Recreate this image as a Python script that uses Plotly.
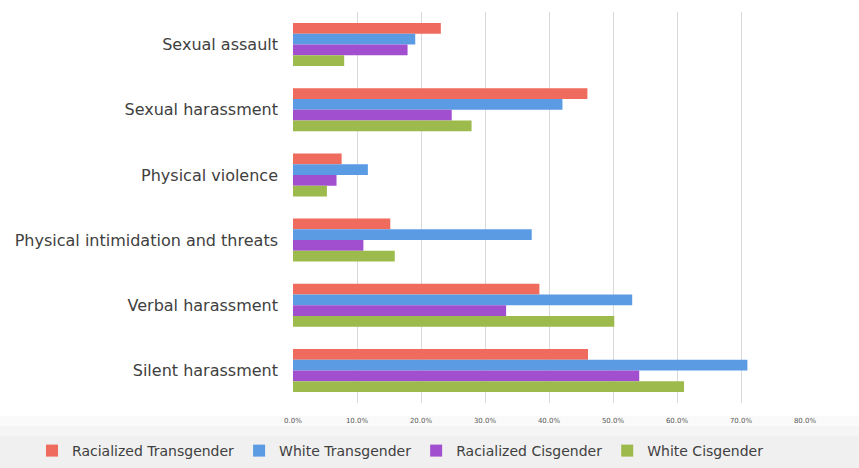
import plotly.graph_objects as go

# Harassment categories (top to bottom) and share of respondents per group
categories = [
    "Sexual assault",
    "Sexual harassment",
    "Physical violence",
    "Physical intimidation and threats",
    "Verbal harassment",
    "Silent harassment",
]
racialized_trans = [0.231, 0.460, 0.076, 0.152, 0.385, 0.461]
white_trans = [0.191, 0.421, 0.117, 0.373, 0.530, 0.710]
racialized_cis = [0.179, 0.248, 0.068, 0.110, 0.333, 0.541]
white_cis = [0.080, 0.279, 0.053, 0.159, 0.502, 0.611]

x_ticks = [0, 0.1, 0.2, 0.3, 0.4, 0.5, 0.6, 0.7, 0.8]

series = [
    ("Racialized Transgender", racialized_trans, "#EE6B5E"),
    ("White Transgender", white_trans, "#5B9BE4"),
    ("Racialized Cisgender", racialized_cis, "#A24FCF"),
    ("White Cisgender", white_cis, "#9DBA4C"),
]

fig = go.Figure()
for name, vals, color in series:
    fig.add_trace(go.Bar(
        y=categories, x=vals, name=name, orientation="h",
        marker=dict(color=color, line=dict(width=0)),
    ))

W, H = 859, 468
ml, mr, mt, mb = 293, 54, 12, 65
pw = W - ml - mr
ph = H - mt - mb


def py(px):
    """Convert a pixel row of the page into paper y."""
    return (H - mb - px) / ph


def px_(x):
    """Convert a pixel column of the page into paper x."""
    return (x - ml) / pw


# soft grey band behind the legend, fading in from white
band = [(416, 426, "#FAFAFA"), (426, 436, "#F5F5F5"), (436, 468, "#F0F0F0")]
shapes = [
    dict(type="rect", xref="paper", yref="paper",
         x0=px_(0), x1=px_(W), y0=py(b), y1=py(t),
         fillcolor=c, line=dict(width=0), layer="below")
    for t, b, c in band
]

fig.update_layout(
    width=W, height=H,
    margin=dict(l=ml, r=mr, t=mt, b=mb, autoexpand=False),
    paper_bgcolor="white", plot_bgcolor="rgba(0,0,0,0)",
    barmode="group", bargap=0.34, bargroupgap=0,
    font=dict(family="DejaVu Sans", color="#404040"),
    showlegend=True,
    legend=dict(
        orientation="h", x=px_(32), xanchor="left",
        y=py(451), yanchor="middle",
        font=dict(size=14, color="#404040"),
        itemwidth=30, tracegroupgap=0, bgcolor="rgba(0,0,0,0)",
    ),
    xaxis=dict(
        range=[0, 0.8], tickvals=x_ticks, tickformat=".1%",
        showgrid=True, gridcolor="#D9D9D9", gridwidth=1,
        zeroline=False, showline=False,
        tickfont=dict(size=7, color="#595959"),
        ticks="", ticklabelstandoff=12,
    ),
    yaxis=dict(
        autorange="reversed", showgrid=False, showline=False,
        tickfont=dict(size=16, color="#404040"),
        ticks="", ticklabelstandoff=14,
    ),
    shapes=shapes,
)

fig.write_html("out.html")
